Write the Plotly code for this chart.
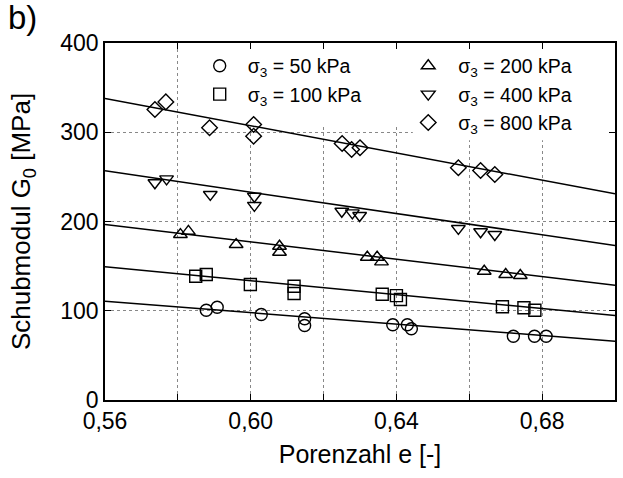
import plotly.graph_objects as go

# ---- data ----
e_50 = [0.5878, 0.5908, 0.6029, 0.6148, 0.6148, 0.6390, 0.6430, 0.6441, 0.6721, 0.6779, 0.6811]
g_50 = [100.6, 104.0, 95.8, 91.0, 83.5, 84.3, 84.3, 79.8, 71.5, 71.5, 71.5]

e_100 = [0.5849, 0.5878, 0.5999, 0.6119, 0.6119, 0.6361, 0.6400, 0.6411, 0.6691, 0.6750, 0.6780]
g_100 = [138.7, 140.6, 129.4, 127.5, 119.3, 118.5, 117.0, 112.6, 104.4, 103.3, 100.6]

e_200 = [0.5807, 0.5829, 0.5960, 0.6079, 0.6079, 0.6320, 0.6347, 0.6359, 0.6641, 0.6700, 0.6740]
g_200 = [185.4, 189.0, 174.2, 172.3, 165.6, 160.0, 160.0, 154.8, 144.3, 140.6, 139.5]

e_400 = [0.5737, 0.5769, 0.5889, 0.6010, 0.6010, 0.6250, 0.6279, 0.6299, 0.6570, 0.6631, 0.6670]
g_400 = [243.4, 247.8, 230.3, 228.3, 218.0, 211.5, 209.7, 206.7, 192.2, 188.5, 185.4]

e_800 = [0.5737, 0.5767, 0.5887, 0.6008, 0.6008, 0.6251, 0.6277, 0.6300, 0.6570, 0.6631, 0.6670]
g_800 = [325.5, 334.0, 305.0, 308.7, 295.6, 287.4, 280.7, 282.6, 260.2, 257.1, 252.7]

# fitted lines: value at e = 0.56 and e = 0.70
fit_e = [0.56, 0.70]
fit_50 = [110.7, 65.9]
fit_100 = [149.2, 94.7]
fit_200 = [196.6, 128.6]
fit_400 = [256.8, 173.1]
fit_800 = [337.8, 231.0]

labels = ["σ<sub>3</sub> = 50 kPa", "σ<sub>3</sub> = 100 kPa", "σ<sub>3</sub> = 200 kPa",
          "σ<sub>3</sub> = 400 kPa", "σ<sub>3</sub> = 800 kPa"]
x_ticks = [0.56, 0.58, 0.60, 0.62, 0.64, 0.66, 0.68, 0.70]
x_ticktext = ["0,56", "", "0,60", "", "0,64", "", "0,68", ""]
y_ticks = [0, 100, 200, 300, 400]

series = [
    (e_50, g_50, fit_50, "circle-open", "legend"),
    (e_100, g_100, fit_100, "square-open", "legend"),
    (e_200, g_200, fit_200, "triangle-up-open", "legend2"),
    (e_400, g_400, fit_400, "triangle-down-open", "legend2"),
    (e_800, g_800, fit_800, "diamond-open", "legend2"),
]

FONT = "Liberation Sans, Arial, Helvetica, sans-serif"
fig = go.Figure()

for (ex, gy, fit, sym, lg), lab in zip(series, labels):
    fig.add_trace(go.Scatter(x=fit_e, y=fit, mode="lines",
                             line=dict(color="black", width=1.5),
                             showlegend=False, hoverinfo="skip"))
for (ex, gy, fit, sym, lg), lab in zip(series, labels):
    fig.add_trace(go.Scatter(x=ex, y=gy, mode="markers", name=lab, legend=lg,
                             marker=dict(symbol=sym, size=12, color="black",
                                         line=dict(color="black", width=1.4))))

# white areas behind the legends (hide gridlines there)
fig.add_shape(type="rect", xref="x", yref="y", x0=0.583, x1=0.6445, y0=309, y1=400,
              fillcolor="white", line=dict(width=0), layer="between")
fig.add_shape(type="rect", xref="x", yref="y", x0=0.6445, x1=0.70, y0=291, y1=400,
              fillcolor="white", line=dict(width=0), layer="between")

fig.update_layout(
    width=623, height=478,
    margin=dict(l=105, r=6, t=43, b=78),
    paper_bgcolor="white", plot_bgcolor="white",
    font=dict(family=FONT, size=22, color="black"),
    separators=",.",
    legend=dict(x=0.17, y=0.99, xanchor="left", yanchor="top",
                bgcolor="rgba(0,0,0,0)", font=dict(size=19.5), itemwidth=46,
                tracegroupgap=0),
    legend2=dict(x=0.575, y=0.99, xanchor="left", yanchor="top",
                 bgcolor="rgba(0,0,0,0)", font=dict(size=19.5), itemwidth=50,
                 tracegroupgap=0),
    annotations=[dict(text="b)", xref="paper", yref="paper", x=-0.195, y=1.13,
                      xanchor="left", yanchor="top", showarrow=False,
                      font=dict(size=33))],
)

fig.update_xaxes(range=[0.56, 0.70], tickvals=x_ticks, ticktext=x_ticktext,
                 ticks="inside", ticklen=6, tickwidth=1, tickcolor="black",
                 showline=True, linecolor="black", linewidth=1.5, mirror="ticks",
                 showgrid=True, gridcolor="#888", griddash="dot", gridwidth=1,
                 zeroline=False, tickfont=dict(size=23),
                 title=dict(text="Porenzahl e [-]", font=dict(size=25), standoff=12))
fig.update_yaxes(range=[0, 400], tickvals=y_ticks,
                 ticks="inside", ticklen=6, tickwidth=1, tickcolor="black",
                 showline=True, linecolor="black", linewidth=1.5, mirror="ticks",
                 showgrid=True, gridcolor="#888", griddash="dot", gridwidth=1,
                 zeroline=False, tickfont=dict(size=23),
                 title=dict(text="Schubmodul G<sub>0</sub> [MPa]", font=dict(size=26), standoff=22))

fig.write_html("out.html")
